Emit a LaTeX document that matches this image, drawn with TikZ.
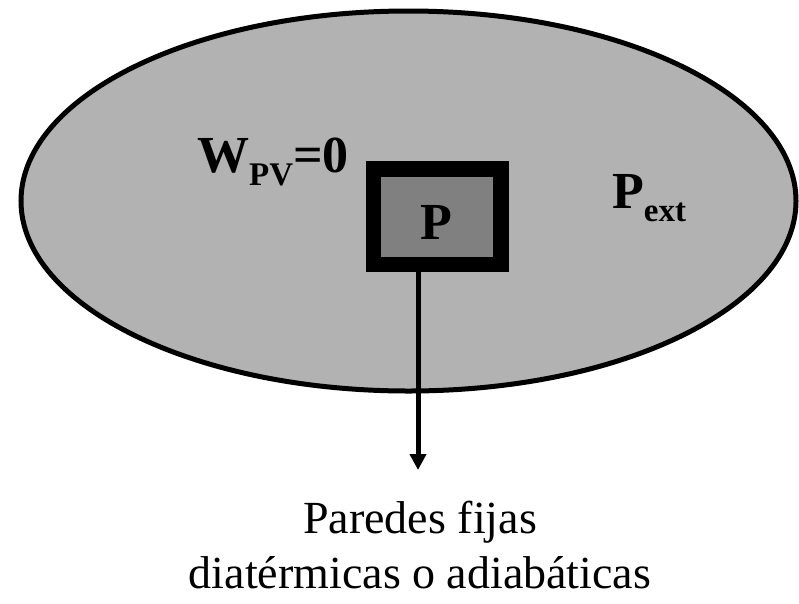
\documentclass[tikz,border=0pt]{standalone}
\usepackage{fontspec}
\setmainfont{Liberation Serif}
\usetikzlibrary{shapes.geometric,arrows.meta}
\begin{document}
\begin{tikzpicture}[x=1pt,y=-1pt,
  outer/.style={ellipse,draw=black,fill=black!30,line width=5pt,minimum width=775pt,minimum height=380pt,inner sep=0pt},
  frame/.style={draw=black,fill=black!50,line width=15.5pt,minimum width=127.5pt,minimum height=95.5pt,inner sep=0pt},
  bigb/.style={font=\fontsize{52}{60}\selectfont\bfseries,inner sep=0pt},
  lab/.style={font=\fontsize{46}{55}\selectfont,align=center,inner sep=0pt},
  conn/.style={line width=5pt,-{Triangle[length=16pt,width=16pt]}}]
\useasboundingbox (0,0) rectangle (799,603);
\node[outer] (env) at (408.5,201) {};
\node[frame] (box) at (437.3,216.8) {};
\node[bigb,anchor=base] (p) at (436,239) {P};
\node[bigb,anchor=base west] (w) at (197,172) {W\raisebox{-13pt}{\fontsize{33}{40}\selectfont PV}=0};
\node[bigb,anchor=base west] (pext) at (612,208) {P\raisebox{-13pt}{\fontsize{33}{40}\selectfont ext}};
\node[lab,anchor=north] (walls) at (420,501) {Paredes fijas\\diatérmicas o adiabáticas};
\coordinate (tip) at (418,470);
\draw[conn] (box.south -| tip) -- (tip);
\end{tikzpicture}
\end{document}
